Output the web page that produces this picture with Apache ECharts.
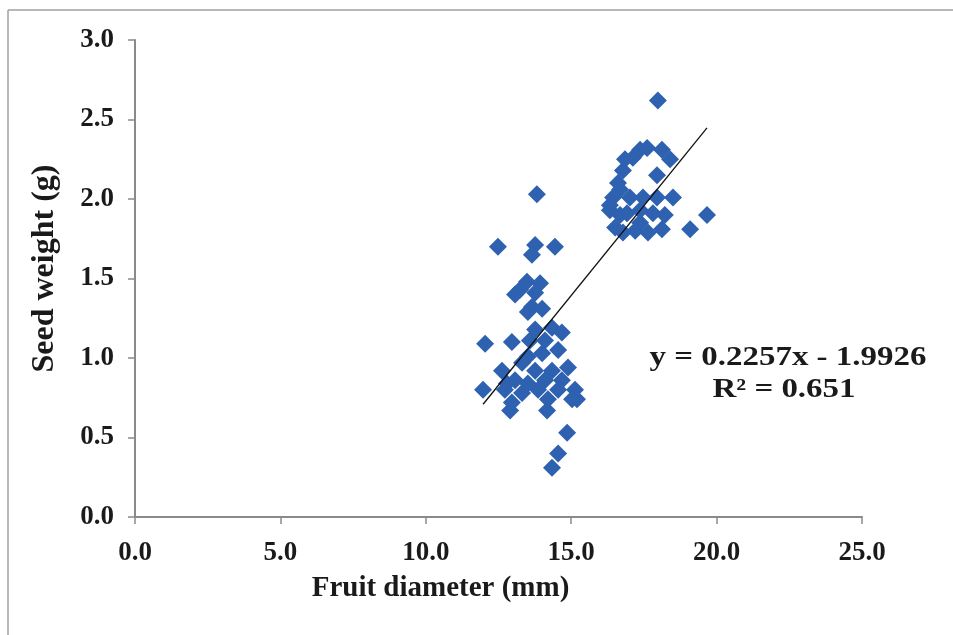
<!DOCTYPE html>
<html>
<head>
<meta charset="utf-8">
<script src="https://cdn.jsdelivr.net/npm/echarts@6/dist/echarts.min.js"></script>
<style>html,body{margin:0;padding:0;background:#fff}#c{width:953px;height:635px}</style>
</head>
<body>
<div id="c"></div>
<script>
// Fruit diameter (mm)
var fruitDiameter = [
  17.98,17.61,18.12,18.40,17.12,16.78,16.61,16.44,16.33,16.51,16.78,17.37,17.81,18.50,17.95,17.47,17.02,17.37,16.92,18.12,19.09,19.67,16.68,16.85,17.37,17.95,16.33,16.68,17.20,17.64,18.22,
  13.82,12.48,13.76,13.65,14.44,13.24,13.48,13.93,13.65,12.04,11.97,12.90,14.17,14.86,14.55,14.34,15.20,12.79,
  13.07,13.76,13.51,14.00,13.76,14.34,14.68,13.58,12.96,14.10,14.00,14.55,13.51,13.31,13.76,14.34,14.89,12.62,13.07,13.51,14.10,14.68,15.13,12.72,13.31,13.86,14.55,12.96,14.20,15.03
];
// Seed weight (g)
var seedWeight = [
  2.62,2.32,2.31,2.25,2.26,2.18,2.10,2.01,1.93,1.82,1.79,1.85,1.91,2.01,2.01,2.01,2.01,1.93,1.91,1.81,1.81,1.90,2.06,2.25,2.31,2.15,1.96,1.90,1.80,1.79,1.90,
  2.03,1.70,1.71,1.65,1.70,1.43,1.48,1.47,1.32,1.09,0.80,0.67,0.67,0.53,0.40,0.31,0.74,0.84,
  1.40,1.41,1.29,1.31,1.18,1.19,1.16,1.11,1.10,1.11,1.03,1.05,1.01,0.97,0.92,0.92,0.94,0.92,0.86,0.84,0.86,0.86,0.80,0.80,0.78,0.80,0.80,0.72,0.74,0.74
];
var trendSlope = 0.2257;
var trendIntercept = -1.9926;
var equationText = 'y = 0.2257x - 1.9926';
var r2Text = 'R² = 0.651';
var xTicks = [0, 5, 10, 15, 20, 25];
var yTicks = [0, 0.5, 1, 1.5, 2, 2.5, 3];

var points = fruitDiameter.map(function (x, i) { return [x, seedWeight[i]]; });
var xMin = Math.min.apply(null, fruitDiameter);
var xMax = Math.max.apply(null, fruitDiameter);
var trend = [[xMin, trendSlope * xMin + trendIntercept], [xMax, trendSlope * xMax + trendIntercept]];

var font = '"Liberation Serif", "Times New Roman", serif';
var textColor = '#1a1a1a';
var chart = echarts.init(document.getElementById('c'), null, { renderer: 'canvas' });
chart.setOption({
  backgroundColor: '#ffffff',
  animation: false,
  grid: { left: 135, top: 40, right: 91, bottom: 118 },
  xAxis: {
    type: 'value', min: xTicks[0], max: xTicks[xTicks.length - 1], interval: 5,
    name: 'Fruit diameter (mm)', nameLocation: 'middle', nameGap: 57,
    nameTextStyle: { fontFamily: font, fontWeight: 'bold', fontSize: 29, color: textColor, padding: [0, 116, 0, 0] },
    axisLine: { lineStyle: { color: '#8a8a8a', width: 2 } },
    axisTick: { show: true, length: 7, lineStyle: { color: '#8a8a8a', width: 1.5 } },
    axisLabel: { fontFamily: font, fontWeight: 'bold', fontSize: 27, color: textColor, margin: 23,
      formatter: function (v) { return v.toFixed(1); } },
    splitLine: { show: false }
  },
  yAxis: {
    type: 'value', min: yTicks[0], max: yTicks[yTicks.length - 1], interval: 0.5,
    name: 'Seed weight (g)', nameLocation: 'middle', nameGap: 74, nameRotate: 90,
    nameTextStyle: { fontFamily: font, fontWeight: 'bold', fontSize: 32, color: textColor, padding: [0, 0, 0, 20] },
    axisLine: { show: true, lineStyle: { color: '#8a8a8a', width: 2 } },
    axisTick: { show: true, length: 7, lineStyle: { color: '#8a8a8a', width: 1.5 } },
    axisLabel: { fontFamily: font, fontWeight: 'bold', fontSize: 27, color: textColor, margin: 21,
      formatter: function (v) { return v.toFixed(1); } },
    splitLine: { show: false }
  },
  series: [
    {
      type: 'scatter', data: points, symbol: 'diamond', symbolSize: 18,
      itemStyle: { color: '#2E62B0', opacity: 1 }, z: 2
    },
    {
      type: 'line', data: trend, symbol: 'none',
      lineStyle: { color: '#111', width: 1.3 }, z: 3
    }
  ],
  graphic: [
    { type: 'line', shape: { x1: 8, y1: 10, x2: 953, y2: 10 }, style: { stroke: '#a0a0a0', lineWidth: 1.5 } },
    { type: 'line', shape: { x1: 8, y1: 10, x2: 8, y2: 635 }, style: { stroke: '#a0a0a0', lineWidth: 1.5 } },
    { type: 'text', x: 788, y: 358, scaleX: 1.22, z: 10,
      style: { text: equationText, font: 'bold 27px ' + font, fill: textColor,
        align: 'center', verticalAlign: 'middle', textAlign: 'center', textVerticalAlign: 'middle' } },
    { type: 'text', x: 784, y: 390, scaleX: 1.22, z: 10,
      style: { text: r2Text, font: 'bold 27px ' + font, fill: textColor,
        align: 'center', verticalAlign: 'middle', textAlign: 'center', textVerticalAlign: 'middle' } }
  ]
});
</script>
</body>
</html>
